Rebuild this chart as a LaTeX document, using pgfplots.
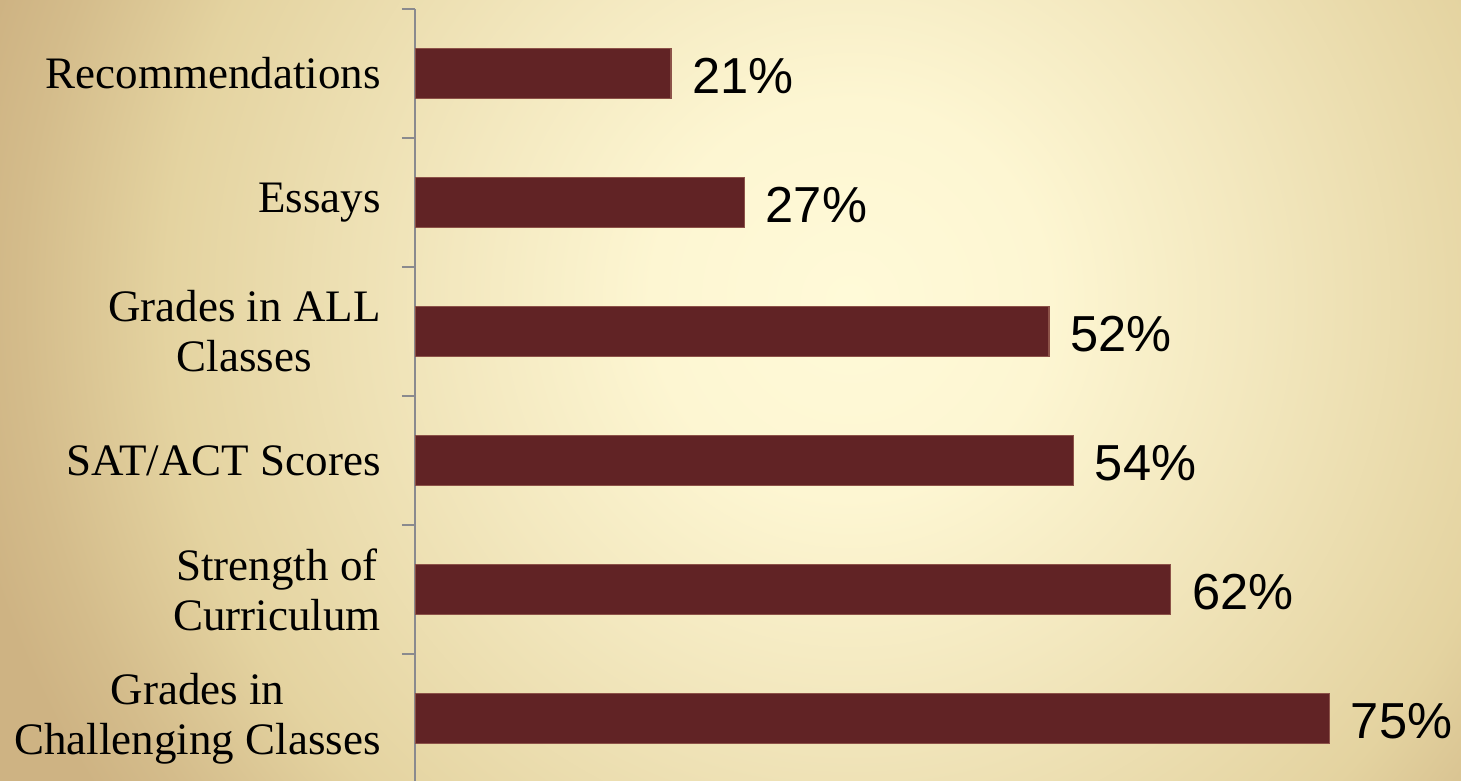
\documentclass[border=0pt]{standalone}
\usepackage{fontspec}
\setmainfont{Liberation Serif}
\newfontfamily\valfont{Liberation Sans}
\usepackage{pgfplots}
\pgfplotsset{compat=1.18}

\definecolor{barcol}{RGB}{97,35,37}
\definecolor{baredge}{RGB}{140,82,72}
\definecolor{axgray}{RGB}{138,138,142}
\definecolor{bg0}{RGB}{255,250,216}
\definecolor{bg1}{RGB}{253,246,210}
\definecolor{bg2}{RGB}{243,232,191}
\definecolor{bg3}{RGB}{228,211,160}
\definecolor{bg4}{RGB}{212,188,139}
\definecolor{bg5}{RGB}{206,179,131}

% background: radial wash, light in the middle
% (the path's circle edge sits at 25bp of the shading)
\pgfdeclareradialshading{bgshade}{\pgfpointorigin}{%
  color(0bp)=(bg0); color(5.5bp)=(bg1); color(11bp)=(bg2);
  color(19bp)=(bg3); color(23bp)=(bg4); color(25bp)=(bg5); color(50bp)=(bg5)}

\begin{document}
\begin{tikzpicture}
  \useasboundingbox (0,0) rectangle (730.5pt,390.5pt);
  \clip (0,0) rectangle (730.5pt,390.5pt);
  \fill[bg5] (0,0) rectangle (730.5pt,390.5pt);
  \shade[shading=bgshade] (425pt,240.5pt) circle (450pt);

  \begin{axis}[
      at={(207.5pt,-1pt)}, anchor=south west,
      scale only axis,
      width=523pt, height=387pt,
      xbar, bar width=25pt,
      xmin=0, xmax=85.8,
      ymin=-0.5, ymax=5.5,
      axis x line=none,
      axis y line*=left,
      y axis line style={-, draw=axgray, line width=1pt},
      ytick={0,1,2,3,4,5},
      yticklabels={%
        {Grades in\\Challenging Classes},%
        {Strength of\\Curriculum},%
        {SAT/ACT Scores},%
        {Grades in ALL\\Classes},%
        {Essays},%
        {Recommendations}},
      yticklabel style={anchor=east, align=center, inner sep=0pt, xshift=-17pt,
        font=\fontsize{22.5}{25}\selectfont},
      minor ytick={-0.5,0.5,...,5.5},
      major tick length=0pt,
      minor tick length=6.5pt,
      tick align=outside,
      ytick pos=left,
      tick style={draw=axgray, line width=1pt},
      /pgf/number format/assume math mode=true,
      nodes near coords={\pgfmathprintnumber{\pgfplotspointmeta}\%},
      nodes near coords style={anchor=west, inner sep=0pt, xshift=10.5pt, yshift=-1.2pt,
        font=\valfont\fontsize{25.3}{30}\selectfont, text=black},
    ]
    \addplot[fill=barcol, draw=baredge, line width=0.6pt]
    coordinates {(75,0) (62,1) (54,2) (52,3) (27,4) (21,5)};
  \end{axis}
\end{tikzpicture}
\end{document}
